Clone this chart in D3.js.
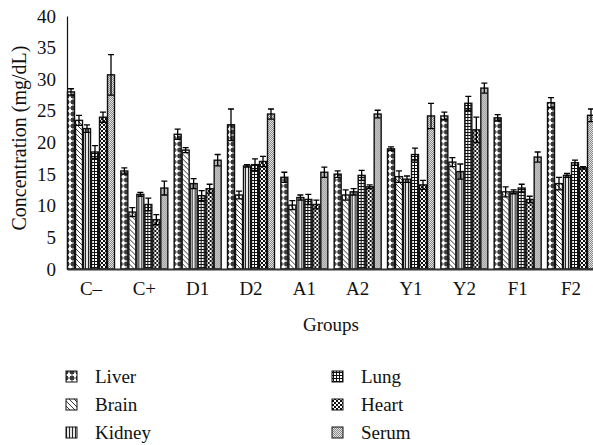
<!doctype html>
<html lang="en">
<head>
  <meta charset="utf-8">
  <title>Concentration by group</title>
</head>
<body style="overflow: hidden; margin: 0; background: #fff;">
  <script src="https://cdnjs.cloudflare.com/ajax/libs/d3/7.8.5/d3.min.js"></script>
  <script type="text/javascript">

    // data
    const groups = ["C\u2013", "C+", "D1", "D2", "A1", "A2", "Y1", "Y2", "F1", "F2"];
    const organs = ["Liver", "Brain", "Kidney", "Lung", "Heart", "Serum"];
    const yTicks = [0, 5, 10, 15, 20, 25, 30, 35, 40];

    const liver  = [28.0, 15.5, 21.3, 22.8, 14.5, 15.0, 19.0, 24.2, 23.9, 26.3];
    const brain  = [23.5,  9.0, 18.8, 11.7, 10.1, 11.7, 14.6, 16.9, 12.2, 13.5];
    const kidney = [22.2, 11.8, 13.5, 16.3, 11.3, 12.2, 14.2, 15.4, 12.2, 14.8];
    const lung   = [18.5, 10.2, 11.6, 16.5, 11.0, 14.8, 18.1, 26.2, 12.8, 16.8];
    const heart  = [24.0,  7.8, 12.7, 17.0, 10.2, 13.0, 13.3, 22.0, 11.0, 16.0];
    const serum  = [30.7, 12.8, 17.2, 24.5, 15.3, 24.5, 24.2, 28.6, 17.7, 24.3];

    const liverErr  = [0.5, 0.5, 0.8, 2.5, 0.8, 0.5, 0.3, 0.6, 0.5, 0.8];
    const brainErr  = [0.8, 0.7, 0.4, 0.6, 0.7, 0.8, 0.9, 0.7, 0.8, 1.0];
    const kidneyErr = [0.6, 0.3, 0.8, 0.2, 0.4, 0.5, 0.5, 1.2, 0.3, 0.3];
    const lungErr   = [1.0, 1.0, 0.8, 0.9, 0.8, 0.8, 1.0, 1.1, 0.6, 0.4];
    const heartErr  = [0.8, 0.8, 0.7, 0.8, 0.7, 0.3, 0.7, 2.0, 0.5, 0.2];
    const serumErr  = [3.2, 1.1, 0.9, 0.8, 0.8, 0.6, 2.0, 0.8, 0.8, 1.0];

    const values = [liver, brain, kidney, lung, heart, serum];
    const errors = [liverErr, brainErr, kidneyErr, lungErr, heartErr, serumErr];

    const config = {
      width: 593,
      height: 445,
      left: 67,
      right: 595,
      top: 16,
      bottom: 269
    };
    const font = "'Liberation Serif', 'DejaVu Serif', serif";

    let svg = d3.select("body").append("svg")
      .attr("width", config.width)
      .attr("height", config.height);

    let defs = svg.append("defs");

    // fill patterns, one per organ
    function pattern(id, size) {
      return defs.append("pattern")
        .attr("id", id)
        .attr("width", size)
        .attr("height", size)
        .attr("patternUnits", "userSpaceOnUse");
    }

    // liver: dark with white crosses
    let p0 = pattern("pat0", 6);
    p0.append("rect").attr("width", 6).attr("height", 6).attr("fill", "#3a3a3a");
    p0.append("rect").attr("x", 2).attr("y", 0.5).attr("width", 2).attr("height", 5).attr("fill", "#fff");
    p0.append("rect").attr("x", 0.5).attr("y", 2).attr("width", 5).attr("height", 2).attr("fill", "#fff");

    // brain: diagonal lines
    let p1 = pattern("pat1", 5);
    p1.append("rect").attr("width", 5).attr("height", 5).attr("fill", "#fff");
    p1.append("path").attr("d", "M-1,-1L6,6M-1,4L1,6M4,-1L6,1")
      .attr("stroke", "#222").attr("stroke-width", 0.9);

    // kidney: vertical lines
    let p2 = pattern("pat2", 3);
    p2.append("rect").attr("width", 3).attr("height", 3).attr("fill", "#e8e8e8");
    p2.append("rect").attr("x", 0).attr("width", 1).attr("height", 3).attr("fill", "#222");

    // lung: small grid
    let p3 = pattern("pat3", 3);
    p3.append("rect").attr("width", 3).attr("height", 3).attr("fill", "#111");
    p3.append("rect").attr("x", 1).attr("y", 1).attr("width", 2).attr("height", 2).attr("fill", "#fff");

    // heart: checkerboard
    let p4 = pattern("pat4", 4);
    p4.append("rect").attr("width", 4).attr("height", 4).attr("fill", "#fff");
    p4.append("rect").attr("width", 2).attr("height", 2).attr("fill", "#111");
    p4.append("rect").attr("x", 2).attr("y", 2).attr("width", 2).attr("height", 2).attr("fill", "#111");

    // serum: fine dots
    let p5 = pattern("pat5", 2);
    p5.append("rect").attr("width", 2).attr("height", 2).attr("fill", "#e4e4e4");
    p5.append("rect").attr("width", 1).attr("height", 1).attr("fill", "#888");
    p5.append("rect").attr("x", 1).attr("y", 1).attr("width", 1).attr("height", 1).attr("fill", "#888");

    let x0 = d3.scaleBand()
      .domain(groups)
      .range([config.left, config.right])
      .paddingInner(0.1)
      .paddingOuter(0);

    let x1 = d3.scaleBand()
      .domain(organs)
      .range([0, x0.bandwidth()]);

    let y = d3.scaleLinear()
      .domain([0, 40])
      .range([config.bottom, config.top]);

    // bars
    groups.forEach((g, gi) => {
      let gEl = svg.append("g").attr("transform", "translate(" + x0(g) + ",0)");
      organs.forEach((o, oi) => {
        let v = values[oi][gi];
        gEl.append("rect")
          .attr("x", x1(o) + 0.5)
          .attr("y", y(v))
          .attr("width", x1.bandwidth() - 1)
          .attr("height", y(0) - y(v))
          .attr("fill", "url(#pat" + oi + ")")
          .attr("stroke", "#111")
          .attr("stroke-width", 1.4);
      });
    });

    // error bars
    groups.forEach((g, gi) => {
      organs.forEach((o, oi) => {
        let v = values[oi][gi];
        let e = errors[oi][gi];
        let cx = x0(g) + x1(o) + x1.bandwidth() / 2;
        let cap = 3;
        let path = d3.path();
        path.moveTo(cx, y(v + e));
        path.lineTo(cx, y(v - e));
        path.moveTo(cx - cap, y(v + e));
        path.lineTo(cx + cap, y(v + e));
        path.moveTo(cx - cap, y(v - e));
        path.lineTo(cx + cap, y(v - e));
        svg.append("path")
          .attr("d", path.toString())
          .attr("stroke", "#000")
          .attr("stroke-width", 1.3)
          .attr("fill", "none");
      });
    });

    // axes
    let yAxis = d3.axisLeft(y).tickValues(yTicks).tickSize(0).tickPadding(11);
    let yG = svg.append("g")
      .attr("transform", "translate(" + config.left + ",0)")
      .call(yAxis);
    yG.select(".domain").attr("stroke", "#111").attr("stroke-width", 1.2);
    yG.selectAll("text").attr("font-family", font).attr("font-size", 19).attr("fill", "#111");

    let xAxis = d3.axisBottom(x0).tickSize(0).tickPadding(13);
    let xG = svg.append("g")
      .attr("transform", "translate(0," + config.bottom + ")")
      .call(xAxis);
    xG.select(".domain").attr("stroke", "#333").attr("stroke-width", 1.8);
    xG.selectAll("text").attr("font-family", font).attr("font-size", 19).attr("fill", "#111");

    svg.append("text")
      .attr("transform", "translate(26,138) rotate(-90)")
      .attr("text-anchor", "middle")
      .attr("font-family", font)
      .attr("font-size", 20)
      .attr("fill", "#111")
      .text("Concentration (mg/dL)");

    svg.append("text")
      .attr("x", (config.left + config.right) / 2)
      .attr("y", 331)
      .attr("text-anchor", "middle")
      .attr("font-family", font)
      .attr("font-size", 19)
      .attr("fill", "#111")
      .text("Groups");

    // legend
    let legend = svg.append("g");
    organs.forEach((o, oi) => {
      let col = Math.floor(oi / 3);
      let row = oi % 3;
      let lx = col === 0 ? 66 : 332;
      let ly = 371 + row * 28;
      legend.append("rect")
        .attr("x", lx)
        .attr("y", ly)
        .attr("width", 11)
        .attr("height", 11)
        .attr("fill", "url(#pat" + oi + ")")
        .attr("stroke", "#111")
        .attr("stroke-width", 1);
      legend.append("text")
        .attr("x", lx + 29)
        .attr("y", ly + 12)
        .attr("font-family", font)
        .attr("font-size", 19)
        .attr("fill", "#111")
        .text(o);
    });
  </script>
</body>
</html>
